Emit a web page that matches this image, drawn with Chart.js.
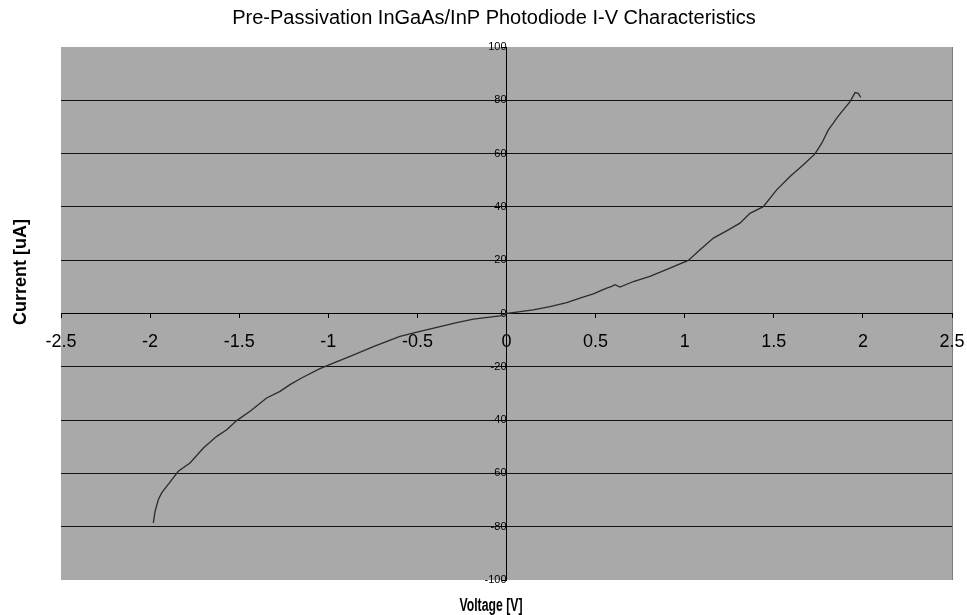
<!DOCTYPE html>
<html>
<head>
<meta charset="utf-8">
<script src="https://cdn.jsdelivr.net/npm/chart.js@4/dist/chart.umd.min.js"></script>
<style>
  html, body { margin: 0; padding: 0; background: #ffffff; }
  #wrap { width: 967px; height: 615px; }
</style>
</head>
<body>
<div id="wrap"><canvas id="c" width="967" height="615"></canvas></div>
<script>
// Measured I-V sweep of the photodiode (voltage in V, current in uA)
const voltage = [-1.982, -1.972, -1.954, -1.935, -1.907, -1.870, -1.842, -1.776, -1.701, -1.626,
                 -1.570, -1.514, -1.439, -1.346, -1.271, -1.215, -1.150, -1.050, -0.972, -0.878,
                 -0.747, -0.598, -0.485, -0.373, -0.279, -0.186, -0.036, 0.000, 0.057, 0.150,
                 0.244, 0.338, 0.412, 0.487, 0.562, 0.590, 0.609, 0.637, 0.712, 0.805,
                 0.917, 1.020, 1.086, 1.161, 1.245, 1.310, 1.366, 1.441, 1.516, 1.591,
                 1.666, 1.731, 1.769, 1.806, 1.834, 1.853, 1.890, 1.928, 1.956, 1.974,
                 1.988];
const current = [-78.6, -74.2, -69.9, -67.3, -64.9, -61.7, -59.2, -56.1, -50.5, -46.1,
                 -43.6, -40.2, -36.7, -31.7, -29.2, -26.7, -24.2, -20.8, -18.6, -16.1,
                 -12.4, -8.6, -6.7, -4.9, -3.4, -2.1, -0.9, 0.0, 0.5, 1.4,
                 2.6, 4.1, 5.8, 7.4, 9.5, 10.2, 10.8, 9.9, 12.0, 13.9,
                 17.0, 19.9, 23.9, 28.3, 31.4, 33.9, 37.6, 40.1, 46.4, 51.4,
                 55.8, 59.9, 63.9, 68.9, 71.4, 73.3, 76.4, 79.5, 82.9, 82.6,
                 81.1];

// Axis tick values
const xTickValues = [-2.5, -2, -1.5, -1, -0.5, 0, 0.5, 1, 1.5, 2, 2.5];
const yTickValues = [-100, -80, -60, -40, -20, 0, 20, 40, 60, 80, 100];

// Text
const chartTitle = 'Pre-Passivation InGaAs/InP Photodiode I-V Characteristics';
const xAxisTitle = 'Voltage [V]';
const yAxisTitle = 'Current [uA]';

const FONT = 'Arial, "Liberation Sans", sans-serif';

// Grey plot area with a thin right edge
const plotBackground = {
  id: 'plotBackground',
  beforeDraw(chart) {
    const { ctx, chartArea: a } = chart;
    ctx.save();
    ctx.fillStyle = '#a9a9a9';
    ctx.fillRect(a.left, a.top, a.right - a.left, a.bottom - a.top);
    ctx.strokeStyle = '#7c7c7c';
    ctx.lineWidth = 1;
    ctx.beginPath();
    ctx.moveTo(a.right + 0.5, a.top);
    ctx.lineTo(a.right + 0.5, a.bottom);
    ctx.stroke();
    ctx.restore();
  }
};

// Chart title and axis titles placed at the outer edges
const outerTitles = {
  id: 'outerTitles',
  afterDraw(chart) {
    const { ctx } = chart;
    ctx.save();
    ctx.fillStyle = '#000';
    ctx.textAlign = 'center';
    ctx.textBaseline = 'middle';

    ctx.font = 'normal 20px ' + FONT;
    ctx.fillText(chartTitle, 494, 18);

    ctx.save();
    ctx.translate(491, 606);
    ctx.scale(0.68, 1);
    ctx.font = 'bold 18px ' + FONT;
    ctx.fillText(xAxisTitle, 0, 0);
    ctx.restore();

    ctx.save();
    ctx.translate(21, 272);
    ctx.rotate(-Math.PI / 2);
    ctx.font = 'bold 18px ' + FONT;
    ctx.fillText(yAxisTitle, 0, 0);
    ctx.restore();

    ctx.restore();
  }
};

new Chart(document.getElementById('c'), {
  type: 'scatter',
  data: {
    datasets: [{
      data: voltage.map((v, i) => ({ x: v, y: current[i] })),
      showLine: true,
      borderColor: '#2b2b2b',
      borderWidth: 1.3,
      pointRadius: 0,
      tension: 0,
      fill: false
    }]
  },
  options: {
    responsive: false,
    devicePixelRatio: 1,
    animation: false,
    layout: { padding: { left: 61, right: 15, top: 47, bottom: 35 } },
    plugins: {
      legend: { display: false },
      tooltip: { enabled: false },
      title: { display: false }
    },
    scales: {
      x: {
        type: 'linear',
        position: { y: 0 },
        min: -2.5,
        max: 2.5,
        afterBuildTicks(scale) { scale.ticks = xTickValues.map(v => ({ value: v })); },
        // the end labels may overhang the plot edge; keep the plot width fixed
        afterFit(scale) { scale.paddingLeft = 0; scale.paddingRight = 0; },
        ticks: {
          color: '#000',
          font: { family: FONT, size: 18 },
          padding: 14,
          maxRotation: 0,
          autoSkip: false,
          callback: v => String(v)
        },
        grid: { drawOnChartArea: false, drawTicks: true, tickLength: 4, tickColor: '#000' },
        border: { color: '#000', width: 1 }
      },
      y: {
        type: 'linear',
        position: { x: 0 },
        min: -100,
        max: 100,
        afterBuildTicks(scale) { scale.ticks = yTickValues.map(v => ({ value: v })); },
        afterFit(scale) { scale.paddingTop = 0; scale.paddingBottom = 0; },
        ticks: {
          color: '#000',
          font: { family: FONT, size: 11 },
          padding: 8,
          autoSkip: false,
          callback: v => String(v)
        },
        grid: {
          color: c => (c.tick && Math.abs(c.tick.value) === 100) ? 'rgba(0,0,0,0)' : '#111',
          lineWidth: 1,
          tickLength: 4,
          tickColor: '#000'
        },
        border: { color: '#000', width: 1 }
      }
    }
  },
  plugins: [plotBackground, outerTitles]
});
</script>
</body>
</html>
